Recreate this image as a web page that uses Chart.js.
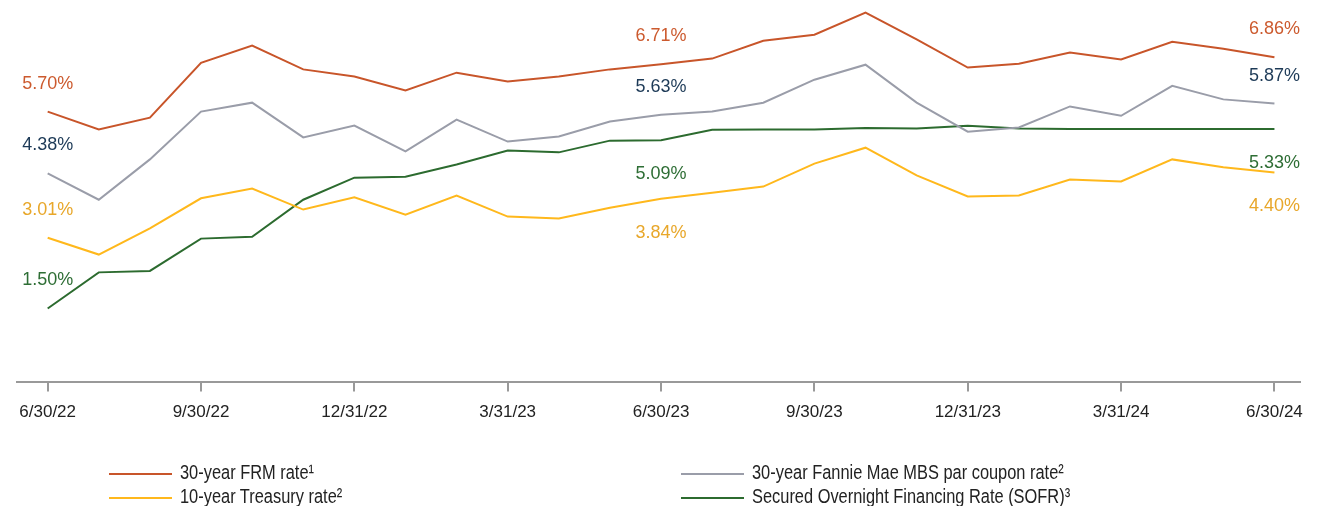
<!DOCTYPE html>
<html>
<head>
<meta charset="utf-8">
<title>Rates</title>
<script src="https://cdn.jsdelivr.net/npm/chart.js@4.4.1/dist/chart.umd.min.js"></script>
<style>
  body { margin: 0; background: #fff; }
  #wrap { position: relative; width: 1317px; height: 506px; }
  #legend { position: absolute; left: 0; top: 460px; width: 1317px;
            font-family: "Liberation Sans", Arial, sans-serif;
            font-size: 20px; color: #222; }
  .item { position: absolute; height: 24px; line-height: 24px; white-space: nowrap; }
  .item span.sw { display: inline-block; width: 63px; height: 2px; vertical-align: middle; margin-right: 8px; }
  .item span.tx { display: inline-block; transform: scaleX(0.82); transform-origin: left center; }
</style>
</head>
<body>
<div id="wrap">
  <canvas id="chart" width="1317" height="506"></canvas>
  <div id="legend"></div>
</div>
<script>
// month-end dates, 6/30/22 .. 6/30/24
var months = ['6/30/22','7/31/22','8/31/22','9/30/22','10/31/22','11/30/22','12/31/22',
  '1/31/23','2/28/23','3/31/23','4/30/23','5/31/23','6/30/23','7/31/23','8/31/23',
  '9/30/23','10/31/23','11/30/23','12/31/23','1/31/24','2/29/24','3/31/24','4/30/24',
  '5/31/24','6/30/24'];
var tickEvery = 3;
var labelAt = [0, 12, 24];

var frm      = [5.70,5.32,5.57,6.74,7.11,6.60,6.45,6.15,6.53,6.34,6.45,6.60,6.71,
                6.83,7.21,7.34,7.81,7.24,6.64,6.72,6.96,6.81,7.19,7.04,6.86];
var mbs      = [4.38,3.82,4.68,5.70,5.89,5.15,5.40,4.85,5.53,5.06,5.17,5.49,5.63,
                5.70,5.89,6.38,6.70,5.89,5.27,5.36,5.81,5.61,6.25,5.96,5.87];
var treasury = [3.01,2.65,3.21,3.85,4.06,3.61,3.87,3.50,3.91,3.46,3.42,3.65,3.84,
                3.97,4.10,4.59,4.93,4.34,3.89,3.91,4.25,4.21,4.68,4.51,4.40];
var sofr     = [1.50,2.27,2.30,2.99,3.03,3.82,4.29,4.31,4.57,4.87,4.83,5.08,5.09,
                5.31,5.32,5.32,5.35,5.34,5.40,5.34,5.33,5.33,5.33,5.33,5.33];

function pts(arr) { return arr.map(function(v, i){ return {x: i, y: v}; }); }

var valueLabels = {
  id: 'valueLabels',
  afterDatasetsDraw: function(chart) {
    var ctx = chart.ctx;
    ctx.save();
    ctx.font = '18px "Liberation Sans", Arial, sans-serif';
    ctx.textAlign = 'center';
    ctx.textBaseline = 'middle';
    chart.data.datasets.forEach(function(ds, di) {
      var meta = chart.getDatasetMeta(di);
      labelAt.forEach(function(idx, k) {
        var p = meta.data[idx];
        var below = ds.labelPos[k] === 'below';
        ctx.fillStyle = ds.labelColor;
        ctx.fillText(ds.data[idx].y.toFixed(2) + '%', p.x, below ? p.y + 34 : p.y - 28);
      });
    });
    ctx.restore();
  }
};

var chart = new Chart(document.getElementById('chart'), {
  type: 'line',
  data: {
    datasets: [
      { label: '30-year FRM rate\u00b9', data: pts(frm), borderColor: '#C8552A',
        labelColor: '#CC5A2E', labelPos: ['above','above','above'] },
      { label: '30-year Fannie Mae MBS par coupon rate\u00b2', data: pts(mbs), borderColor: '#9A9DA9',
        labelColor: '#1D3A57', labelPos: ['above','above','above'] },
      { label: '10-year Treasury rate\u00b2', data: pts(treasury), borderColor: '#FFB81C',
        labelColor: '#E8A72A', labelPos: ['above','below','below'] },
      { label: 'Secured Overnight Financing Rate (SOFR)\u00b3', data: pts(sofr), borderColor: '#2C6B2F',
        labelColor: '#2E6E35', labelPos: ['above','below','below'] }
    ]
  },
  options: {
    responsive: false,
    animation: false,
    layout: { padding: { left: 17, right: 17, top: 0, bottom: 72 } },
    elements: {
      line: { borderWidth: 2, tension: 0, fill: false },
      point: { radius: 0 }
    },
    plugins: { legend: { display: false }, tooltip: { enabled: false } },
    scales: {
      x: {
        type: 'linear',
        min: -0.6,
        max: 24.5,
        afterBuildTicks: function(scale) {
          var t = [];
          for (var i = 0; i < months.length; i += tickEvery) t.push({ value: i });
          scale.ticks = t;
        },
        ticks: {
          autoSkip: false,
          maxRotation: 0,
          padding: 11,
          color: '#222',
          font: { family: '"Liberation Sans", Arial, sans-serif', size: 17 },
          callback: function(v) { return months[v]; }
        },
        grid: { drawOnChartArea: false, drawTicks: true, tickLength: 10, color: '#999', lineWidth: 2 },
        border: { display: true, color: '#999', width: 2 }
      },
      y: { display: false, min: -0.06, max: 8.08 }
    }
  },
  plugins: [valueLabels]
});

// legend, two columns
var legend = document.getElementById('legend');
var cols = [109, 681];
chart.data.datasets.forEach(function(ds, i) {
  var d = document.createElement('div');
  d.className = 'item';
  d.style.left = cols[i % 2] + 'px';
  d.style.top = (Math.floor(i / 2) * 24) + 'px';
  d.innerHTML = '<span class="sw" style="background:' + ds.borderColor + '"></span>';
  var t = document.createElement('span');
  t.className = 'tx';
  t.textContent = ds.label;
  d.appendChild(t);
  legend.appendChild(d);
});
</script>
</body>
</html>
